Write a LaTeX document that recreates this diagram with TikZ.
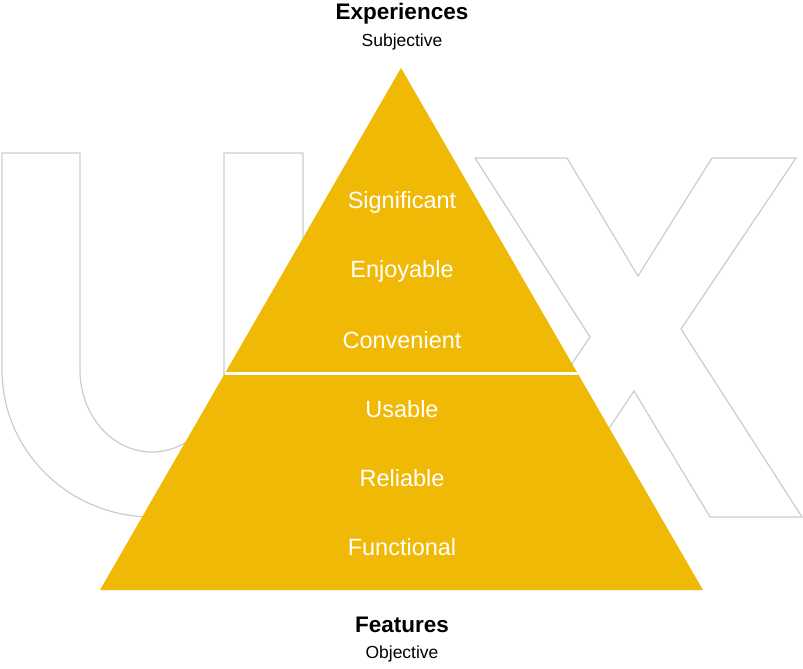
\documentclass[tikz,border=0pt]{standalone}
\usepackage{fontspec}
\setmainfont{Liberation Sans}
\definecolor{gold}{RGB}{240,185,6}
\definecolor{outline}{RGB}{204,204,208}

\begin{document}
\begin{tikzpicture}[x=1pt, y=-1pt,
	letter/.style={draw=outline, line width=1.2pt, line join=miter},
	layer/.style={text=white, font=\fontsize{23.5}{26}\selectfont},
	title/.style={font=\fontsize{22.5}{25}\bfseries\selectfont},
	sub/.style={font=\fontsize{17.5}{20}\selectfont}]
			\useasboundingbox (0,0) rectangle (803,669);

			% Big U behind the pyramid
			\draw[letter] (2,153) -- (2,370) arc[start angle=180, end angle=0, x radius=150.5, y radius=147]
				-- (303,153) -- (224,153) -- (224,370) arc[start angle=0, end angle=180, x radius=72, y radius=82]
				-- (80,153) -- cycle;

			% Big X behind the pyramid
			\draw[letter] (475,158) -- (567,158) -- (638,276) -- (712,158) -- (796,158) -- (681,329)
				-- (802,517) -- (710,517) -- (634,391) -- (550,517) -- (468,517) -- (590,337) -- cycle;

			% Pyramid
			\coordinate (top) at (401,68);
			\coordinate (baseR) at (703,590);
			\coordinate (baseL) at (100,590);
			\fill[gold] (top) -- (baseR) -- (baseL) -- cycle;
			\coordinate (cutL) at (225,373);
			\coordinate (cutR) at (578,373);
			\draw[white, line width=3pt] (cutL) -- (cutR); % split between the two halves

			% Levels
			\foreach \lbl [count=\i] in {Significant,Enjoyable,Convenient,Usable,Reliable,Functional}
			\node[layer] (lvl\i) at (402,133+69*\i) {\lbl};

			% Top and bottom labels
			\node[title] (exp) at (402,14) {Experiences};
			\node[sub] (subj) at (402,42) {Subjective};
			\node[title] (feat) at (402,625) {Features};
			\node[sub] (obj) at (402,654) {Objective};
		\end{tikzpicture}
\end{document}
